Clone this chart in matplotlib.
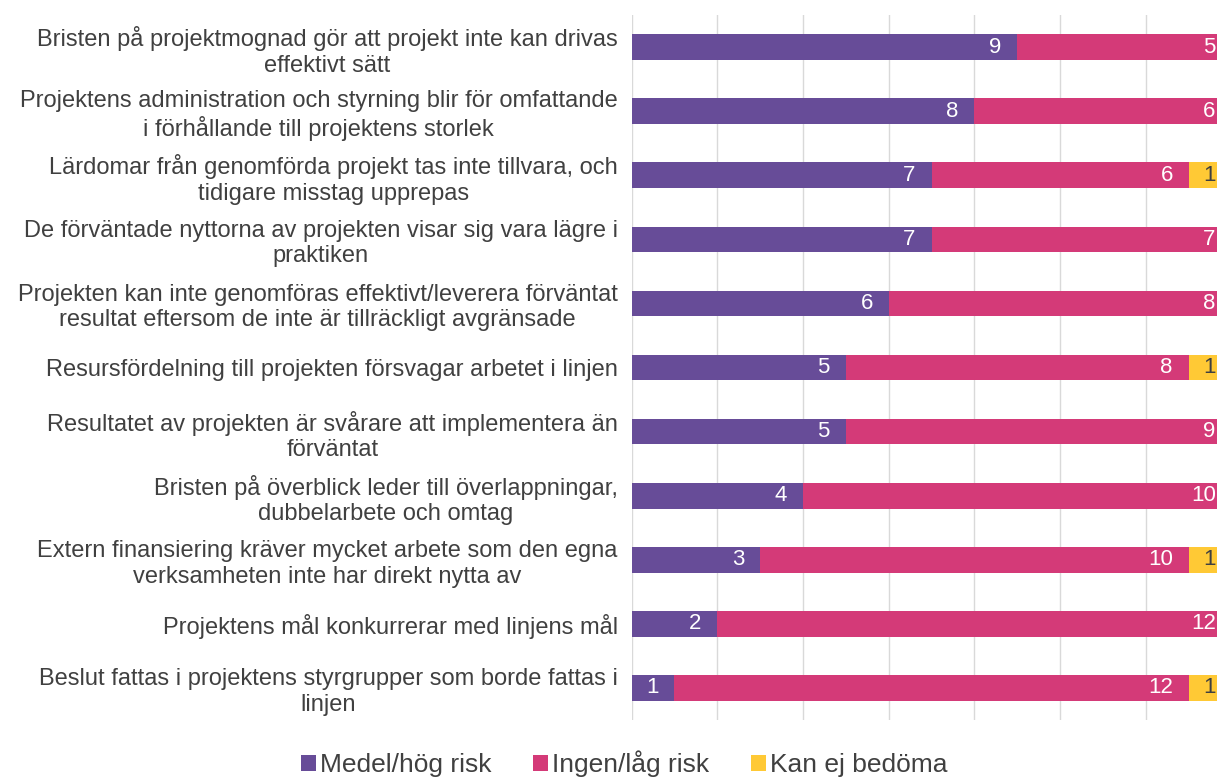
import matplotlib.pyplot as plt
import numpy as np

plt.rcParams['font.family'] = ['Liberation Sans', 'DejaVu Sans']

# categories, top to bottom
categories = [
    "Bristen på projektmognad gör att projekt inte kan drivas\neffektivt sätt",
    "Projektens administration och styrning blir för omfattande\ni förhållande till projektens storlek",
    "Lärdomar från genomförda projekt tas inte tillvara, och\ntidigare misstag upprepas",
    "De förväntade nyttorna av projekten visar sig vara lägre i\npraktiken",
    "Projekten kan inte genomföras effektivt/leverera förväntat\nresultat eftersom de inte är tillräckligt avgränsade",
    "Resursfördelning till projekten försvagar arbetet i linjen",
    "Resultatet av projekten är svårare att implementera än\nförväntat",
    "Bristen på överblick leder till överlappningar,\ndubbelarbete och omtag",
    "Extern finansiering kräver mycket arbete som den egna\nverksamheten inte har direkt nytta av",
    "Projektens mål konkurrerar med linjens mål",
    "Beslut fattas i projektens styrgrupper som borde fattas i\nlinjen",
]

medel_hog = [9, 8, 7, 7, 6, 5, 5, 4, 3, 2, 1]
ingen_lag = [5, 6, 6, 7, 8, 8, 9, 10, 10, 12, 12]
kan_ej = [0, 0, 1, 0, 0, 1, 0, 0, 1, 0, 1]

series_names = ["Medel/hög risk", "Ingen/låg risk", "Kan ej bedöma"]
colors = ["#674C98", "#D43A78", "#FFC935"]
label_colors = ["white", "white", "#404040"]

fig = plt.figure(figsize=(12.24, 7.78), dpi=100)
ax = fig.add_axes([0.516, 0.0746, 0.478, 0.906])

y = np.arange(len(categories))
left = np.zeros(len(categories))
handles = []
for vals, name, col, lc in zip([medel_hog, ingen_lag, kan_ej], series_names, colors, label_colors):
    vals = np.array(vals, dtype=float)
    bars = ax.barh(y, vals, left=left, height=0.4, color=col, label=name, zorder=3)
    handles.append(bars)
    for yi, l, v in zip(y, left, vals):
        if v > 0:
            ax.annotate(f"{int(v)}", xy=(l + v, yi), xytext=(-11.5, 0), textcoords="offset points",
                        ha="right", va="center", color=lc, fontsize=16, zorder=4,
                        annotation_clip=False)
    left = left + vals

# plot area is a bit narrower than the largest total, bars get clipped at the edge
ax.set_xlim(0, 13.65)
ax.set_ylim(len(categories) - 0.5, -0.5)
ax.set_xticks(np.arange(0, 14, 2))
ax.set_xticklabels([])
ax.tick_params(axis="x", length=0)
ax.tick_params(axis="y", length=0, pad=10)
ax.set_yticks(y)
ax.set_yticklabels(categories, fontsize=17, color="#404040", multialignment="center",
                   linespacing=1.2)
ax.grid(axis="x", color="#D9D9D9", linewidth=1, zorder=0)
for s in ax.spines.values():
    s.set_visible(False)

fig.legend(handles=handles, labels=series_names, loc="center", bbox_to_anchor=(0.51, 0.018),
           ncol=3, frameon=False, fontsize=19, handlelength=0.55, handleheight=0.55,
           handletextpad=0.15, columnspacing=1.6, labelcolor="#404040")

fig.savefig("out.png", dpi=100)
